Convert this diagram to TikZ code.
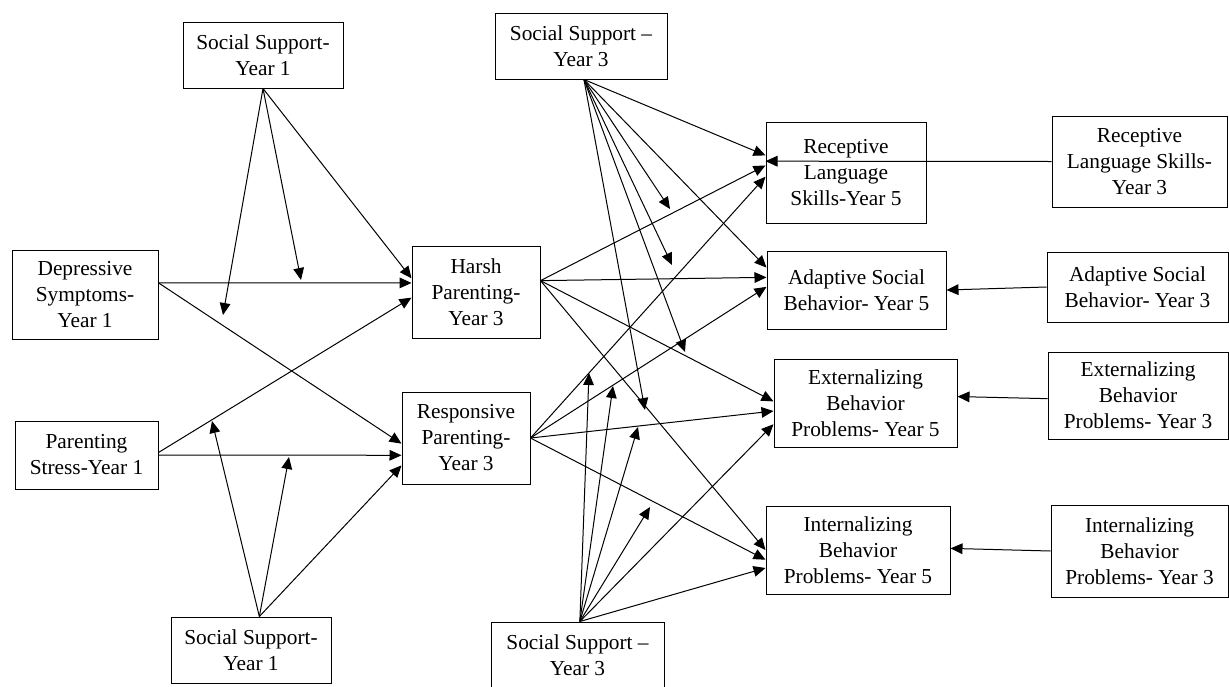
\documentclass[tikz,border=0pt]{standalone}
\usepackage{fontspec}
\setmainfont{Liberation Serif}
\usetikzlibrary{arrows.meta}

\tikzset{every picture/.style={line width=0.75pt}}
\tikzset{var/.style={draw, align=center, inner sep=0.75pt, font=\fontsize{16}{19.5}\selectfont},
  sz/.style 2 args={minimum width=#1*0.75pt, minimum height=#2*0.75pt},
  arr/.style={-{Triangle[length=9pt,width=8pt]}}}

\begin{document}
\begin{tikzpicture}[x=0.75pt,y=0.75pt,yscale=-1,xscale=1]
\useasboundingbox (0,0) rectangle (1229,686);

% Text Node
\draw (263,55) node [var, sz={160}{66}] (ss1top) {Social Support-\\Year 1};
% Text Node
\draw (85,294.5) node [var, sz={146}{89}] (dep) {Depressive\\Symptoms-\\Year 1};
% Text Node
\draw (86.5,455) node [var, sz={143}{68}] (pst) {Parenting\\Stress-Year 1};
% Text Node
\draw (251,650) node [var, sz={160}{66}] (ss1bot) {Social Support-\\Year 1};
% Text Node
\draw (476,292) node [var, sz={128}{92}] (harsh) {Harsh\\Parenting-\\Year 3};
% Text Node
\draw (466,438) node [var, sz={128}{92}] (resp) {Responsive\\Parenting-\\Year 3};
% Text Node
\draw (581,46) node [var, sz={172}{66}] (ss3top) {Social Support --\\Year 3};
% Text Node
\draw (577.5,655) node [var, sz={173}{66}] (ss3bot) {Social Support --\\Year 3};
% Text Node
\draw (846,172.5) node [var, sz={160}{101}] (rec5) {Receptive\\Language\\Skills-Year 5};
% Text Node
\draw (856.5,290) node [var, sz={179}{78}] (ada5) {Adaptive Social\\Behavior- Year 5};
% Text Node
\draw (865.5,403) node [var, sz={183}{88}] (ext5) {Externalizing\\Behavior\\Problems- Year 5};
% Text Node
\draw (858,550) node [var, sz={184}{88}] (int5) {Internalizing\\Behavior\\Problems- Year 5};
% Text Node
\draw (1139.5,161.5) node [var, sz={175}{91}] (rec3) {Receptive\\Language Skills-\\Year 3};
% Text Node
\draw (1137.5,287) node [var, sz={181}{70}] (ada3) {Adaptive Social\\Behavior- Year 3};
% Text Node
\draw (1138,395.5) node [var, sz={180}{87}] (ext3) {Externalizing\\Behavior\\Problems- Year 3};
% Text Node
\draw (1139.5,551) node [var, sz={177}{92}] (int3) {Internalizing\\Behavior\\Problems- Year 3};

% free ends of the moderation arrows
\coordinate (m1) at (301,280);
\coordinate (m2) at (223,315);
\coordinate (m3) at (212,421);
\coordinate (m4) at (289,457);
\coordinate (t1) at (670,209);
\coordinate (t2) at (672,265);
\coordinate (t3) at (685,352);
\coordinate (t4) at (645,410);
\coordinate (b1) at (589,373);
\coordinate (b2) at (613,386);
\coordinate (b3) at (638,427);
\coordinate (b4) at (650,507);

%Straight Lines
\draw [arr] (dep.9) -- (harsh.172);
\draw [arr] (dep.9) -- (resp.185);
\draw [arr] (pst.2) -- (harsh.185);
\draw [arr] (pst.east) -- (resp.195);
%Straight Lines
\draw [arr] (ss1top.south) -- (harsh.168);
\draw [arr] (ss1top.south) -- (m1);
\draw [arr] (ss1top.south) -- (m2);
\draw [arr] (ss1bot.76) -- (m3);
\draw [arr] (ss1bot.76) -- (m4);
\draw [arr] (ss1bot.76) -- (resp.203);
%Straight Lines
\draw [arr] (harsh.10) -- (rec5.175);
\draw [arr] (harsh.10) -- (ada5.172);
\draw [arr] (harsh.10) -- (ext5.179);
\draw [arr] (harsh.10) -- (int5.180);
\draw [arr] (resp.east) -- (rec5.183);
\draw [arr] (resp.east) -- (ada5.178);
\draw [arr] (resp.east) -- (ext5.185);
\draw [arr] (resp.east) -- (int5.186);
%Straight Lines
\draw [arr] (ss3top.275) -- (rec5.168);
\draw [arr] (ss3top.275) -- (t1);
\draw [arr] (ss3top.275) -- (t2);
\draw [arr] (ss3top.275) -- (ada5.166);
\draw [arr] (ss3top.275) -- (t3);
\draw [arr] (ss3top.275) -- (t4);
%Straight Lines
\draw [arr] (ss3bot.86) -- (b1);
\draw [arr] (ss3bot.86) -- (b2);
\draw [arr] (ss3bot.86) -- (b3);
\draw [arr] (ss3bot.86) -- (b4);
\draw [arr] (ss3bot.86) -- (ext5.193);
\draw [arr] (ss3bot.86) -- (int5.191);
%Straight Lines
\draw [arr] (rec3.west) -- (rec5.172);
\draw [arr] (ada3.west) -- (ada5.east);
\draw [arr] (ext3.182) -- (ext5.4);
\draw [arr] (int3.west) -- (int5.1);

\end{tikzpicture}
\end{document}
